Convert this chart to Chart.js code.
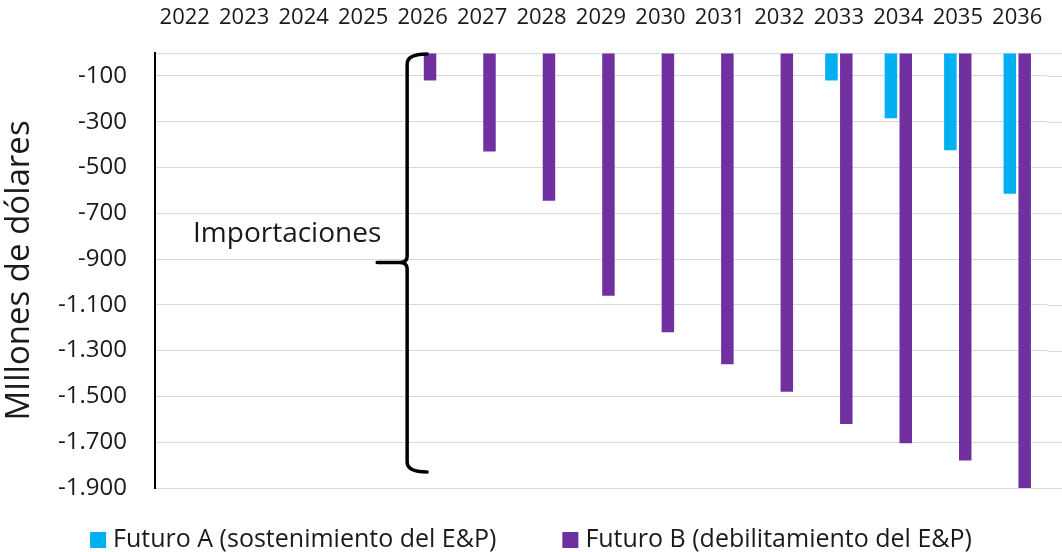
<!DOCTYPE html>
<html>
<head>
<meta charset="utf-8">
<script src="https://cdn.jsdelivr.net/npm/chart.js@4.4.1/dist/chart.umd.min.js"></script>
<style>
  html, body { margin: 0; padding: 0; background: #fff; }
  #wrap { width: 1062px; height: 552px; }
</style>
</head>
<body>
<div id="wrap"><canvas id="chart"></canvas></div>
<script>
// categories and series (millones de dólares)
const years = ['2022', '2023', '2024', '2025', '2026', '2027', '2028', '2029', '2030', '2031', '2032', '2033', '2034', '2035', '2036'];
const futuroA = [null, null, null, null, null, null, null, null, null, null, null, -120, -285, -425, -615];
const futuroB = [null, null, null, null, -120, -430, -645, -1060, -1220, -1360, -1480, -1620, -1705, -1780, -1900];
const yTicks = [0, -100, -300, -500, -700, -900, -1100, -1300, -1500, -1700, -1900];
// bracket: from 0 down to about -1830, label sits beside it
const braceTop = 0, braceBottom = -1830, braceMid = -915;
const braceLabel = 'Importaciones';

const FONT = '"Open Sans", Lato, sans-serif';
Chart.defaults.font.family = FONT;
Chart.defaults.color = '#1a1a1a';

function fmtMiles(v) {
    const s = Math.abs(v).toString().replace(/\B(?=(\d{3})+(?!\d))/g, '.');
    return (v < 0 ? '-' : '') + s;
}

const braceNote = {
    id: 'braceNote',
    beforeDatasetsDraw(chart) {
        // grid lines continue to the right edge of the picture
        const { ctx, chartArea, scales: { y } } = chart;
        ctx.save();
        ctx.strokeStyle = '#d9d9d9';
        ctx.lineWidth = 1;
        yTicks.forEach(v => {
            const py = Math.round(y.getPixelForValue(v)) + 0.5;
            ctx.beginPath();
            ctx.moveTo(chartArea.right, py);
            ctx.lineTo(chart.width, py);
            ctx.stroke();
        });
        ctx.restore();
    },
    afterDatasetsDraw(chart) {
        const { ctx, scales: { x, y } } = chart;
        const step = x.getPixelForValue(1) - x.getPixelForValue(0);
        const bx = x.getPixelForValue(4) - 0.26 * step;
        const top = y.getPixelForValue(braceTop) + 1;
        const bot = y.getPixelForValue(braceBottom);
        const mid = y.getPixelForValue(braceMid);
        ctx.save();
        ctx.strokeStyle = '#000';
        ctx.lineWidth = 3.5;
        ctx.lineCap = 'round';
        ctx.beginPath();
        ctx.moveTo(bx + 20, top);
        ctx.quadraticCurveTo(bx, top, bx, top + 10);
        ctx.lineTo(bx, mid - 6);
        ctx.quadraticCurveTo(bx, mid, bx - 8, mid);
        ctx.lineTo(bx - 30, mid);
        ctx.moveTo(bx - 8, mid);
        ctx.quadraticCurveTo(bx, mid, bx, mid + 6);
        ctx.lineTo(bx, bot - 10);
        ctx.quadraticCurveTo(bx, bot, bx + 20, bot);
        ctx.stroke();
        ctx.fillStyle = '#1a1a1a';
        ctx.font = '28px ' + FONT;
        ctx.textAlign = 'center';
        ctx.textBaseline = 'middle';
        ctx.fillText(braceLabel, bx - 120, mid - 28);
        ctx.restore();
    },
    afterDraw(chart) {
        // legend under the plot, centred, square swatches
        const { ctx } = chart;
        const sets = chart.data.datasets;
        ctx.save();
        ctx.font = '25px ' + FONT;
        ctx.textBaseline = 'middle';
        const box = 16, gap = 7, itemGap = 66, cy = 540;
        const widths = sets.map(d => box + gap + ctx.measureText(d.label).width);
        let x0 = (chart.width - widths.reduce((a, b) => a + b, 0) - itemGap * (sets.length - 1)) / 2;
        sets.forEach((d, i) => {
            ctx.fillStyle = d.backgroundColor;
            ctx.fillRect(x0, cy - box / 2, box, box);
            ctx.fillStyle = '#1a1a1a';
            ctx.fillText(d.label, x0 + box + gap, cy);
            x0 += widths[i] + itemGap;
        });
        ctx.restore();
    }
};

const ctx = document.getElementById('chart').getContext('2d');
new Chart(ctx, {
    type: 'bar',
    data: {
        labels: years,
        datasets: [
            {
                label: 'Futuro A (sostenimiento del E&P)',
                data: futuroA,
                backgroundColor: '#00b0f0', // cyan
                barPercentage: 0.84,
                categoryPercentage: 0.5
            },
            {
                label: 'Futuro B (debilitamiento del E&P)',
                data: futuroB,
                backgroundColor: '#7030a0', // purple
                barPercentage: 0.84,
                categoryPercentage: 0.5
            }
        ]
    },
    options: {
        responsive: true,
        maintainAspectRatio: false,
        animation: false,
        layout: { padding: { top: 0, right: 15, bottom: 64, left: 0 } },
        plugins: {
            tooltip: { enabled: false },
            legend: { display: false }
        },
        scales: {
            x: {
                position: 'top',
                grid: { display: false },
                border: { display: false },
                ticks: {
                    font: { size: 22 },
                    padding: 14,
                    maxRotation: 0,
                    autoSkip: false
                },
                afterFit: s => { s.height = 53; }
            },
            y: {
                min: -1900,
                max: 0,
                afterBuildTicks: s => { s.ticks = yTicks.map(v => ({ value: v })); },
                grid: { color: '#d9d9d9', drawTicks: false },
                border: { display: true, color: '#000', width: 2 },
                ticks: {
                    font: { size: 24 },
                    padding: 28,
                    callback: v => (v === 0 ? '' : fmtMiles(v))
                },
                title: {
                    display: true,
                    text: 'MIllones de dólares',
                    font: { size: 33 },
                    padding: { top: 0, bottom: 0 }
                },
                afterFit: s => { s.width = 155; }
            }
        }
    },
    plugins: [braceNote]
});
</script>
</body>
</html>
